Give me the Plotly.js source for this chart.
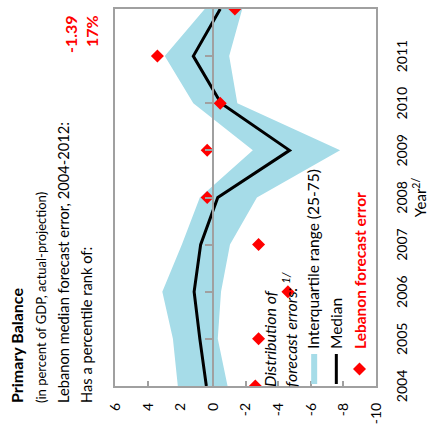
<!DOCTYPE html>
<html>
<head>
<meta charset="utf-8">
<script src="https://cdn.plot.ly/plotly-3.0.1.min.js"></script>
<style>
  html, body { margin:0; padding:0; overflow:hidden; background:#fff; }
  #wrap { position:absolute; left:0; top:0; width:434px; height:433px;
          transform-origin: 0 0; transform: translate(0px, 434px) rotate(-90deg); }
</style>
</head>
<body>
<div id="wrap"><div id="chart"></div></div>
<script>
// ---- data ----
var years = [2004, 2005, 2006, 2007, 2008, 2009, 2010, 2011, 2012];
var yearLabels = ["2004","2005","2006","2007","2008","2009","2010","2011","2012"];
var p25 = [-0.9, -0.3, -0.5, -1.05, -2.7, -7.8, -1.5, -1.0, -1.8];
var p75 = [2.15, 2.45, 3.1, 1.9, 0.8, -2.45, 1.2, 2.95, 0.5];
var median = [0.4, 0.8, 1.15, 0.75, -0.3, -4.7, -0.5, 1.2, -0.45];
var lebanon = [-2.6, -2.8, -4.6, -2.8, 0.35, 0.35, -0.45, 3.4, -1.35];
var yTicks = [-10, -8, -6, -4, -2, 0, 2, 4, 6];

var W = 434, H = 433;
var mL = 48, mR = 9, mT = 115, mB = 57;
function px(ox) { return (ox - mL) / (W - mL - mR); }
function py(oy) { return (H - mB - oy) / (H - mT - mB); }

var gray = '#A0A0A0';
var FONT = 'Lato, "Open Sans", sans-serif';

var traces = [
  { x: years, y: p25, type: 'scatter', mode: 'lines', line: {width: 0, color: '#A6DCE8'},
    showlegend: false, hoverinfo: 'skip' },
  { x: years, y: p75, type: 'scatter', mode: 'lines', line: {width: 0, color: '#A6DCE8'},
    fill: 'tonexty', fillcolor: '#A6DCE8', name: 'Interquartile range (25-75)' },
  { x: years, y: median, type: 'scatter', mode: 'lines', line: {width: 3, color: '#000000'},
    name: 'Median' },
  { x: years, y: lebanon, type: 'scatter', mode: 'markers', xaxis: 'x2', yaxis: 'y',
    marker: {symbol: 'diamond', size: 10, color: '#FF0000'},
    name: '<b><span style="color:#FF0000">Lebanon forecast error</span></b>' }
];

var layout = {
  width: W, height: H,
  margin: {l: mL, r: mR, t: mT, b: mB, pad: 0},
  paper_bgcolor: '#ffffff', plot_bgcolor: '#ffffff',
  font: {family: FONT, size: 14, color: '#000'},
  showlegend: true,
  legend: {
    x: px(45), y: py(255), xanchor: 'left', yanchor: 'top',
    traceorder: 'normal',
    bgcolor: 'rgba(0,0,0,0)', font: {family: FONT, size: 15.5, color: '#000'},
    title: {text: '<i>Distribution of<br>forecast errors: <sup>1/</sup></i>', side: 'top',
            font: {family: FONT, size: 16, color: '#000'}},
    itemwidth: 30, tracegroupgap: 0
  },
  xaxis: {
    range: [2004, 2012], tickvals: years, ticktext: yearLabels,
    showline: true, mirror: true, linecolor: gray, linewidth: 2,
    ticks: '', showgrid: false, zeroline: false, layer: 'below traces',
    ticklabelstandoff: 12,
    tickfont: {family: FONT, size: 14, color: '#000'},
    title: {text: 'Year<sup>2/</sup>', standoff: 0, font: {family: FONT, size: 15, color: '#000'}}
  },
  xaxis2: {
    overlaying: 'x', anchor: 'free', position: (0 - yTicks[0]) / (yTicks[yTicks.length-1] - yTicks[0]),
    side: 'bottom', range: [2004, 2012], tickvals: years,
    showline: true, linecolor: gray, linewidth: 2,
    ticks: 'inside', ticklen: 7, tickwidth: 2, tickcolor: gray,
    showticklabels: false, showgrid: false, zeroline: false, layer: 'above traces'
  },
  yaxis: {
    range: [yTicks[0], yTicks[yTicks.length-1]], tickvals: yTicks,
    ticktext: yTicks.map(String),
    showline: true, mirror: true, linecolor: gray, linewidth: 2,
    ticks: 'inside', ticklen: 5, tickwidth: 2, tickcolor: gray,
    showgrid: false, zeroline: false, layer: 'below traces',
    ticklabelstandoff: 12,
    tickfont: {family: FONT, size: 14, color: '#000'}
  },
  annotations: [
    {xref: 'paper', yref: 'paper', x: px(29), y: py(17), xanchor: 'left', yanchor: 'middle',
     showarrow: false, text: '<b>Primary Balance</b>', font: {family: FONT, size: 16, color: '#000'}},
    {xref: 'paper', yref: 'paper', x: px(29), y: py(41), xanchor: 'left', yanchor: 'middle',
     showarrow: false, text: '(in percent of GDP, actual-projection)', font: {family: FONT, size: 13, color: '#000'}},
    {xref: 'paper', yref: 'paper', x: px(29), y: py(63), xanchor: 'left', yanchor: 'middle',
     showarrow: false, text: 'Lebanon median forecast error, 2004-2012:', font: {family: FONT, size: 14.7, color: '#000'}},
    {xref: 'paper', yref: 'paper', x: px(29), y: py(86), xanchor: 'left', yanchor: 'middle',
     showarrow: false, text: 'Has a percentile rank of:', font: {family: FONT, size: 14.7, color: '#000'}},
    {xref: 'paper', yref: 'paper', x: px(421), y: py(71), xanchor: 'right', yanchor: 'middle',
     showarrow: false, text: '<b>-1.39</b>', font: {family: FONT, size: 16, color: '#FF0000'}},
    {xref: 'paper', yref: 'paper', x: px(421), y: py(92), xanchor: 'right', yanchor: 'middle',
     showarrow: false, text: '<b>17%</b>', font: {family: FONT, size: 16, color: '#FF0000'}}
  ]
};

Plotly.newPlot('chart', traces, layout, {displayModeBar: false, staticPlot: true, responsive: false});
</script>
</body>
</html>
